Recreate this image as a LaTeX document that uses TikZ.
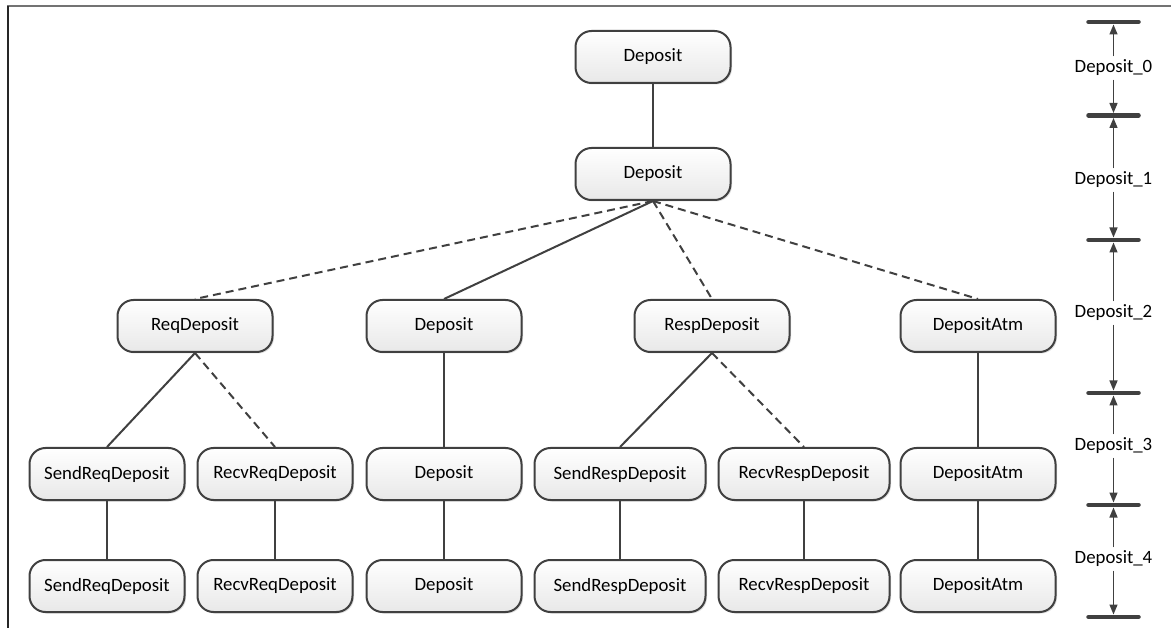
\documentclass[tikz,border=0pt]{standalone}
\usepackage{fontspec}
\setmainfont{Carlito}
\usetikzlibrary{arrows.meta,shadows,calc}
\definecolor{ink}{HTML}{404040}
\begin{document}
\begin{tikzpicture}[x=1pt,y=-1pt,
  txt/.style={font=\fontsize{18.8}{22}\selectfont, text=black},
  box/.style={txt, draw=ink, line width=2pt, rounded corners=16pt,
    top color=white, bottom color=black!9,
    minimum width=155pt, minimum height=52pt, inner sep=0pt,
    drop shadow={shadow xshift=1.5pt, shadow yshift=-1.5pt, opacity=0.22, fill=black!60}},
  wide/.style={box, minimum width=171pt},
  link/.style={draw=ink, line width=2pt},
  opt/.style={link, dash pattern=on 8pt off 5pt},
  bar/.style={draw=ink, line width=4.5pt, line cap=round},
  tick/.style={draw=ink, line width=1.4pt, -{Triangle[width=8pt,length=10pt]}},
  lvl/.style={txt, inner sep=3pt, text height=13pt, text depth=4pt}]

\useasboundingbox (0,0) rectangle (1171,628);

% partial frame
\draw[line width=2pt, draw=black!55] (7,6.5) -- (1171,6.5);
\draw[line width=2pt, draw=black!85] (7.5,6.5) -- (7.5,628);

% level 0 and 1
\node[box] (d0) at (653,57) {Deposit};
\node[box] (d1) at (653,174) {Deposit};

% level 2
\node[box] (req)  at (195,326) {ReqDeposit};
\node[box] (dep2) at (444,326) {Deposit};
\node[box] (resp) at (712,326) {RespDeposit};
\node[box] (atm2) at (978,326) {DepositAtm};

% level 3
\node[box]  (sreq3)  at (107,474) {SendReqDeposit};
\node[box]  (rreq3)  at (275,474) {RecvReqDeposit};
\node[box]  (dep3)   at (444,474) {Deposit};
\node[wide] (sresp3) at (620,474) {SendRespDeposit};
\node[wide] (rresp3) at (804,474) {RecvRespDeposit};
\node[box]  (atm3)   at (978,474) {DepositAtm};

% level 4
\node[box]  (sreq4)  at (107,586) {SendReqDeposit};
\node[box]  (rreq4)  at (275,586) {RecvReqDeposit};
\node[box]  (dep4)   at (444,586) {Deposit};
\node[wide] (sresp4) at (620,586) {SendRespDeposit};
\node[wide] (rresp4) at (804,586) {RecvRespDeposit};
\node[box]  (atm4)   at (978,586) {DepositAtm};

% tree links
\draw[link] (d0.south) -- (d1.north);
\draw[opt]  (d1.south) -- (req.north);
\draw[link] (d1.south) -- (dep2.north);
\draw[opt]  (d1.south) -- (resp.north);
\draw[opt]  (d1.south) -- (atm2.north);

\draw[link] (req.south) -- (sreq3.north);
\draw[opt]  (req.south) -- (rreq3.north);
\draw[link] (dep2.south) -- (dep3.north);
\draw[link] (resp.south) -- (sresp3.north);
\draw[opt]  (resp.south) -- (rresp3.north);
\draw[link] (atm2.south) -- (atm3.north);

\draw[link] (sreq3.south) -- (sreq4.north);
\draw[link] (rreq3.south) -- (rreq4.north);
\draw[link] (dep3.south) -- (dep4.north);
\draw[link] (sresp3.south) -- (sresp4.north);
\draw[link] (rresp3.south) -- (rresp4.north);
\draw[link] (atm3.south) -- (atm4.north);

% level scale on the right
\coordinate (b0) at (1113.5,22);
\coordinate (b1) at (1113.5,115.5);
\coordinate (b2) at (1113.5,240);
\coordinate (b3) at (1113.5,393);
\coordinate (b4) at (1113.5,505);
\coordinate (b5) at (1113.5,617);
\foreach \b in {b0,b1,b2,b3,b4,b5}
  \draw[bar] ($(\b)+(-25,0)$) -- ($(\b)+(25,0)$);

\node[lvl] (l0) at (1113.5,68)  {Deposit\_0};
\node[lvl] (l1) at (1113.5,180) {Deposit\_1};
\node[lvl] (l2) at (1113.5,313) {Deposit\_2};
\node[lvl] (l3) at (1113.5,446) {Deposit\_3};
\node[lvl] (l4) at (1113.5,559) {Deposit\_4};

\draw[tick] (l0.north) -- ($(b0)+(0,2.5)$);
\draw[tick] (l0.south) -- ($(b1)+(0,-2.5)$);
\draw[tick] (l1.north) -- ($(b1)+(0,2.5)$);
\draw[tick] (l1.south) -- ($(b2)+(0,-2.5)$);
\draw[tick] (l2.north) -- ($(b2)+(0,2.5)$);
\draw[tick] (l2.south) -- ($(b3)+(0,-2.5)$);
\draw[tick] (l3.north) -- ($(b3)+(0,2.5)$);
\draw[tick] (l3.south) -- ($(b4)+(0,-2.5)$);
\draw[tick] (l4.north) -- ($(b4)+(0,2.5)$);
\draw[tick] (l4.south) -- ($(b5)+(0,-2.5)$);
\end{tikzpicture}
\end{document}
